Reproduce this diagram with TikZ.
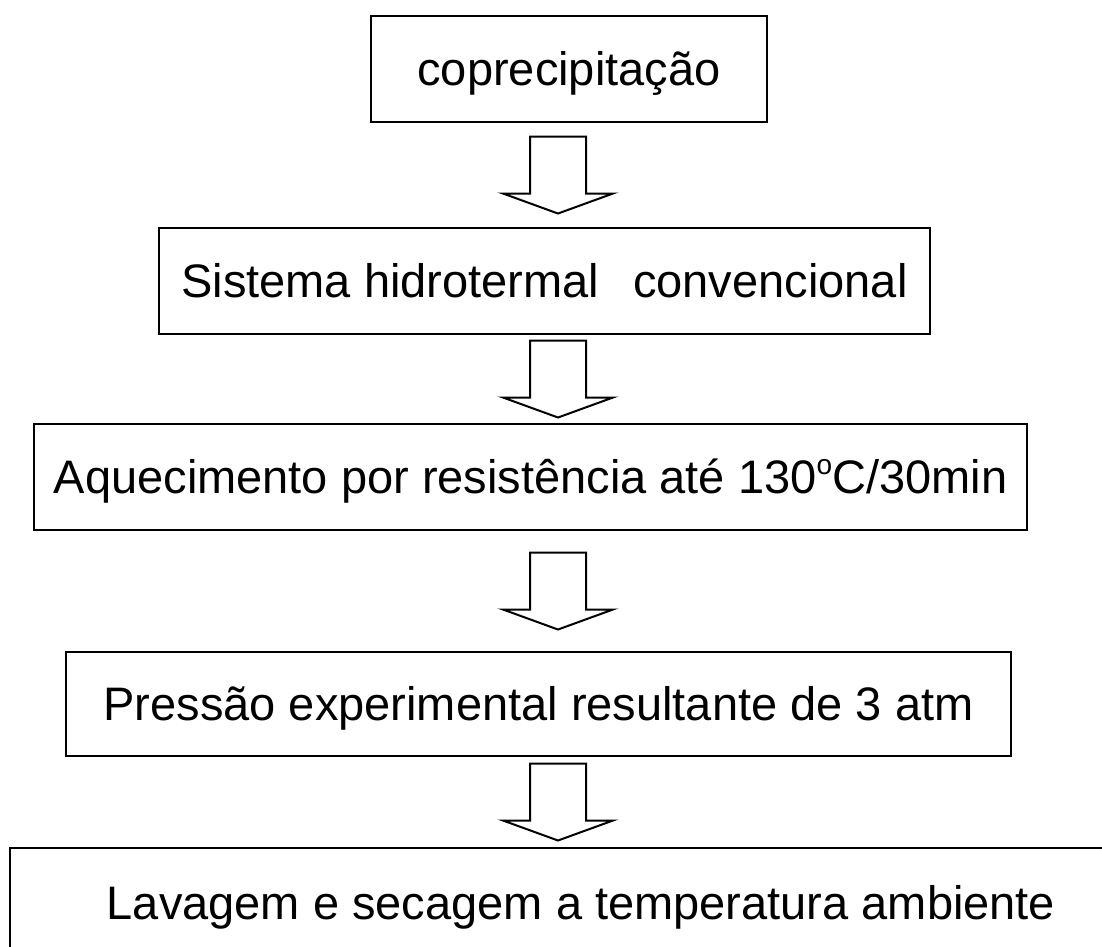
\documentclass[tikz,border=0pt]{standalone}
\usepackage{fontspec}
\setmainfont{Liberation Sans}
\usetikzlibrary{calc}

\newcommand{\grau}{\raisebox{19pt}{\fontsize{28}{28}\selectfont o}}

\tikzset{
  caixa/.style={draw=black, line width=2pt, inner sep=0pt, minimum height=106pt,
    text height=32pt, text depth=0pt, font=\fontsize{47}{55}\selectfont},
  seta/.pic={\draw[line width=2pt, line join=miter]
    (-28,-38.5) -- (28,-38.5) -- (28,18.5) -- (55,18.5) -- (0,38.5)
    -- (-55,18.5) -- (-28,18.5) -- cycle;}
}

\begin{document}
\begin{tikzpicture}[x=1pt, y=-1pt]
        \useasboundingbox (0,0) rectangle (1102,946);
        \clip (0,0) rectangle (1102,946);

        \node[caixa, minimum width=396pt] (cop) at (569, 69) {coprecipitação\hspace{14pt}};
        \node[caixa, minimum width=771pt] (sis) at (544.5, 281) {Sistema hidrotermal\hspace{34pt}convencional};
        \node[caixa, minimum width=993pt] (aq) at (530.5, 477) {Aquecimento por resistência até 130\grau C/30min};
        \node[caixa, minimum width=945pt, minimum height=104pt] (pr) at (538.5, 704) {Pressão experimental resultante de 3 atm};
        \node[caixa, minimum width=1142pt, minimum height=110pt] (lav) at (581, 903) {Lavagem e secagem a temperatura ambiente};

        \coordinate (eixo) at (558, 0);
        \foreach \a/\b [count=\i] in {cop/sis, sis/aq, aq/pr, pr/lav} {
            \coordinate (m\i) at ($(\a.south)!.5!(\b.north)$);
            \pic at (eixo |- m\i) {seta};
        }
    \end{tikzpicture}
\end{document}
